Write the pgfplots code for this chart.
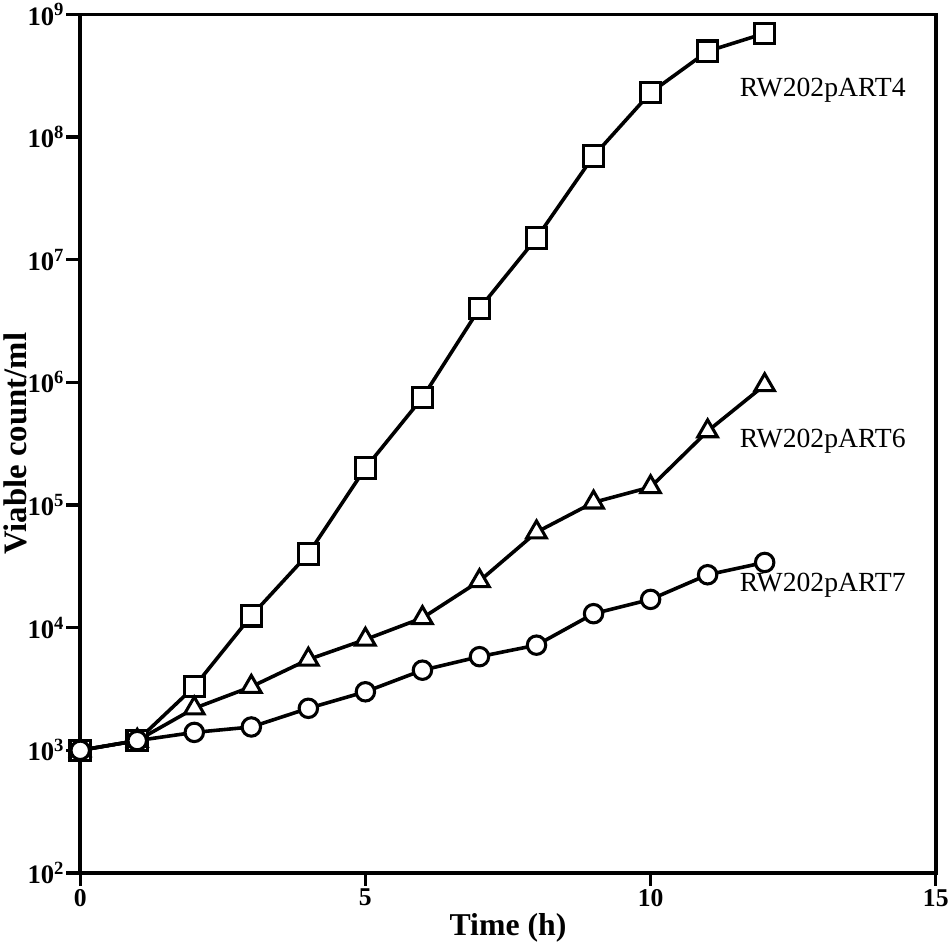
\documentclass[border=0pt]{standalone}
\usepackage{pgfplots}
\pgfplotsset{compat=1.18}
\usepackage{fontspec}
\setmainfont{Liberation Serif}

\begin{document}
\begin{tikzpicture}
\begin{axis}[
    width=835pt, height=838pt, scale only axis,
    clip=false,
    xmin=0, xmax=15,
    ymin=1e2, ymax=1e9,
    ymode=log,
    xtick={0,5,10,15},
    ytick={1e2,1e3,1e4,1e5,1e6,1e7,1e8,1e9},
    yticklabels={10\textsuperscript{2},10\textsuperscript{3},10\textsuperscript{4},10\textsuperscript{5},10\textsuperscript{6},10\textsuperscript{7},10\textsuperscript{8},10\textsuperscript{9}},
    yminorticks=false,
    tick pos=left,
    tick align=outside,
    major tick style={black, line width=3pt},
    axis line style={line width=3.5pt},
    /pgf/number format/assume math mode=true,
    xticklabel style={font=\fontsize{25}{28}\selectfont\bfseries, yshift=-8pt},
    yticklabel style={font=\fontsize{26}{30}\selectfont\bfseries, xshift=-8pt},
    xlabel={Time (h)},
    ylabel={Viable count/ml},
    xlabel style={font=\fontsize{31}{36}\selectfont\bfseries},
    ylabel style={font=\fontsize{32}{36}\selectfont\bfseries, yshift=-6pt},
]
% RW202pART4
\addplot[black, line width=3.5pt, mark=square*, mark size=10pt,
    mark options={solid, fill=white, line width=3pt}] coordinates {
    (0,1000) (1,1200) (2,3300) (3,12500) (4,40000) (5,200000)
    (6,750000) (7,4000000) (8,15000000) (9,70000000)
    (10,230000000) (11,500000000) (12,700000000)
};
% RW202pART6
\addplot[black, line width=3.5pt, mark=triangle*, mark size=11pt,
    mark options={solid, fill=white, line width=3pt}] coordinates {
    (0,1000) (1,1200) (2,2200) (3,3300) (4,5500) (5,8000)
    (6,12000) (7,24000) (8,60000) (9,105000)
    (10,140000) (11,400000) (12,950000)
};
% RW202pART7
\addplot[black, line width=3.5pt, mark=*, mark size=9pt,
    mark options={solid, fill=white, line width=3pt}] coordinates {
    (0,1000) (1,1200) (2,1400) (3,1550) (4,2200) (5,3000)
    (6,4500) (7,5800) (8,7200) (9,13000)
    (10,17000) (11,27000) (12,34000)
};
% longer outward tick marks
\draw[line width=3pt] (axis cs:0,1e2) -- ++(0pt,-13pt);
\draw[line width=3pt] (axis cs:5,1e2) -- ++(0pt,-13pt);
\draw[line width=3pt] (axis cs:10,1e2) -- ++(0pt,-13pt);
\draw[line width=3pt] (axis cs:15,1e2) -- ++(0pt,-13pt);
\draw[line width=3pt] (axis cs:0,1e2) -- ++(-14pt,0pt);
\draw[line width=3pt] (axis cs:0,1e3) -- ++(-14pt,0pt);
\draw[line width=3pt] (axis cs:0,1e4) -- ++(-14pt,0pt);
\draw[line width=3pt] (axis cs:0,1e5) -- ++(-14pt,0pt);
\draw[line width=3pt] (axis cs:0,1e6) -- ++(-14pt,0pt);
\draw[line width=3pt] (axis cs:0,1e7) -- ++(-14pt,0pt);
\draw[line width=3pt] (axis cs:0,1e8) -- ++(-14pt,0pt);
\draw[line width=3pt] (axis cs:0,1e9) -- ++(-14pt,0pt);
\node[anchor=west, font=\fontsize{27}{30}\selectfont] at (axis cs:11.5,2.4e8) {RW202pART4};
\node[anchor=west, font=\fontsize{27}{30}\selectfont] at (axis cs:11.5,3.3e5) {RW202pART6};
\node[anchor=west, font=\fontsize{27}{30}\selectfont] at (axis cs:11.5,2.2e4) {RW202pART7};
\end{axis}
\end{tikzpicture}
\end{document}
